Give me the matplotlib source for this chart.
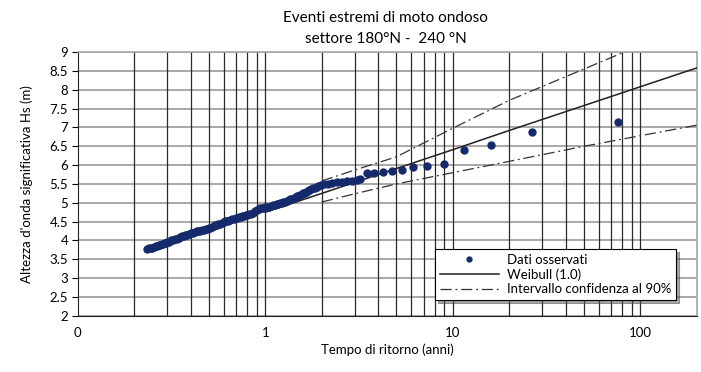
import numpy as np
import matplotlib
matplotlib.use("Agg")
import matplotlib.pyplot as plt
from matplotlib.ticker import FixedLocator, NullFormatter, LogLocator

plt.rcParams['font.family'] = ['Lato', 'DejaVu Sans']

# observed data: return period (years) and Hs (m)
obs_T = [76.2, 26.4, 16.0, 11.5, 9.0, 7.26, 6.16, 5.33, 4.72, 4.22, 3.80, 3.47, 3.19,
         3.10, 2.89, 2.71, 2.55, 2.41, 2.28, 2.17, 2.06,
         1.97, 1.92, 1.88, 1.84, 1.80, 1.76, 1.72, 1.68, 1.65, 1.62, 1.59, 1.56, 1.53,
         1.50, 1.48, 1.45, 1.42, 1.39, 1.36, 1.33, 1.30, 1.27, 1.25, 1.22, 1.20, 1.17,
         1.15, 1.12, 1.10, 1.07, 1.05, 1.02, 1.00, 0.98, 0.96, 0.94, 0.92, 0.90, 0.88,
         0.86, 0.84, 0.82, 0.80, 0.785, 0.77, 0.755, 0.74, 0.725, 0.71, 0.695, 0.68,
         0.665, 0.65, 0.635, 0.62, 0.61, 0.60, 0.585, 0.57, 0.56, 0.55, 0.54, 0.53,
         0.52, 0.51, 0.50, 0.49, 0.48, 0.47, 0.46, 0.45, 0.44, 0.43, 0.42, 0.41, 0.40,
         0.39, 0.382, 0.375, 0.367, 0.36, 0.352, 0.345, 0.337, 0.33, 0.322, 0.315,
         0.307, 0.30, 0.295, 0.29, 0.285, 0.28, 0.275, 0.27, 0.265, 0.26, 0.255, 0.25,
         0.245, 0.24, 0.235]
obs_H = [7.15, 6.89, 6.53, 6.40, 6.03, 5.98, 5.96, 5.87, 5.84, 5.83, 5.80, 5.78, 5.62,
         5.60, 5.58, 5.57, 5.56, 5.55, 5.53, 5.51, 5.49,
         5.46, 5.44, 5.42, 5.40, 5.38, 5.36, 5.33, 5.31, 5.29, 5.27, 5.25, 5.23, 5.21,
         5.19, 5.17, 5.15, 5.13, 5.11, 5.09, 5.07, 5.05, 5.03, 5.02, 5.00, 4.99, 4.97,
         4.96, 4.94, 4.93, 4.91, 4.90, 4.89, 4.88, 4.87, 4.86, 4.85, 4.83, 4.80, 4.77,
         4.74, 4.71, 4.69, 4.68, 4.67, 4.66, 4.64, 4.63, 4.61, 4.60, 4.59, 4.58,
         4.56, 4.55, 4.53, 4.52, 4.51, 4.50, 4.47, 4.45, 4.43, 4.42, 4.40, 4.38,
         4.36, 4.34, 4.32, 4.31, 4.30, 4.29, 4.27, 4.26, 4.25, 4.24, 4.22, 4.21, 4.19,
         4.17, 4.15, 4.14, 4.12, 4.11, 4.09, 4.07, 4.05, 4.04, 4.02, 4.00,
         3.97, 3.95, 3.93, 3.92, 3.91, 3.90, 3.88, 3.87, 3.85, 3.84, 3.82, 3.81,
         3.80, 3.79, 3.77]

# Weibull fit
fit_T = [1, 2, 5, 10, 20, 50, 100, 200]
fit_H = [4.75, 5.25, 5.91, 6.41, 6.92, 7.58, 8.08, 8.58]

# 90% confidence interval
ci_T = [2, 3, 5, 10, 20, 50, 100, 200]
ci_up = [5.58, 5.87, 6.22, 6.98, 7.72, 8.55, 9.18, 9.85]
ci_lo = [5.02, 5.24, 5.50, 5.80, 6.10, 6.50, 6.78, 7.06]

xticks = [0.1, 1, 10, 100]
xticklabels = ['0', '1', '10', '100']
yticks = [2, 2.5, 3, 3.5, 4, 4.5, 5, 5.5, 6, 6.5, 7, 7.5, 8, 8.5, 9]

fig = plt.figure(figsize=(7.01, 3.72), dpi=100)
ax = fig.add_axes([0.111, 0.151, 0.883, 0.709])

ax.set_xscale('log')
ax.set_xlim(0.1, 200)
ax.set_ylim(2, 9)

# grid
for y in yticks:
    ax.axhline(y, color='#a8a8a8', lw=1.4, zorder=1)
minor = [m * 10.0 ** e for e in (-1, 0, 1, 2) for m in range(2, 10) if m * 10.0 ** e <= 200]
for x in minor + [1, 10, 100]:
    ax.axvline(x, color='#2a2a2a', lw=0.9, zorder=1)

ax.plot(obs_T, obs_H, 'o', color='#142a6b', ms=5, mec='#142a6b', zorder=4,
        label='Dati osservati')
ax.plot(fit_T, fit_H, '-', color='#222222', lw=1.1, zorder=3, label='Weibull (1.0)')
ax.plot(ci_T, ci_up, color='#333333', lw=0.9, ls=(0, (9, 3, 1.5, 3)), zorder=3,
        label='Intervallo confidenza al 90%')
ax.plot(ci_T, ci_lo, color='#333333', lw=0.9, ls=(0, (9, 3, 1.5, 3)), zorder=3)

ax.xaxis.set_major_locator(FixedLocator(xticks))
ax.set_xticklabels(xticklabels)
ax.xaxis.set_minor_locator(LogLocator(subs=[]))
ax.xaxis.set_minor_formatter(NullFormatter())
ax.set_yticks(yticks)
ax.set_yticklabels(['%g' % v for v in yticks])
ax.tick_params(axis='x', length=0, pad=8, labelsize=9.5)
ax.tick_params(axis='y', length=4, width=0.8, direction='out', pad=3, labelsize=9.5)

for s in ('top', 'right'):
    ax.spines[s].set_color('#a8a8a8')
    ax.spines[s].set_linewidth(1.2)
ax.spines['left'].set_color('#222222')
ax.spines['bottom'].set_color('#222222')

ax.set_xlabel('Tempo di ritorno (anni)', fontsize=9.5, labelpad=3)
ax.set_ylabel("Altezza d'onda significativa Hs (m)", fontsize=9.5, labelpad=12)
fig.text(0.55, 0.952, 'Eventi estremi di moto ondoso', ha='center', va='center', fontsize=11)
fig.text(0.55, 0.895, 'settore 180°N -  240 °N', ha='center', va='center', fontsize=11)

leg = ax.legend(loc='lower right', bbox_to_anchor=(0.977, 0.035), fontsize=9.5,
                frameon=True, fancybox=False, shadow=True, borderpad=0.35,
                labelspacing=0.2, handlelength=4.5, handletextpad=0.6, markerscale=0.7)
leg.get_frame().set_edgecolor('black')
leg.get_frame().set_linewidth(0.8)
leg.set_zorder(10)

fig.savefig('out.png', dpi=100)
